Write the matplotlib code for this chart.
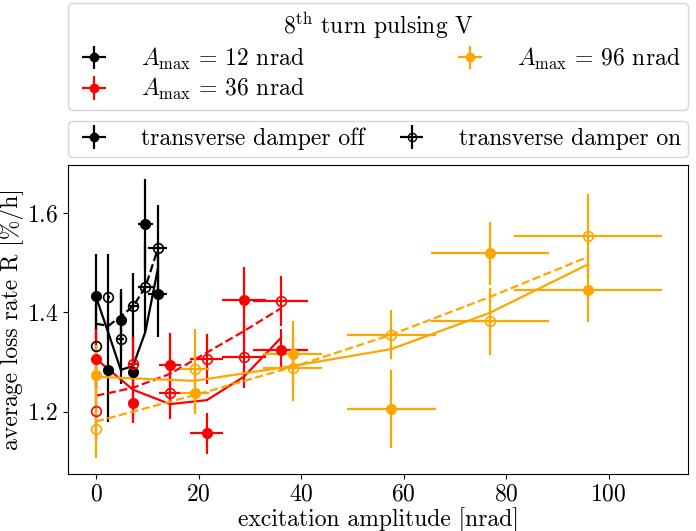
import numpy as np
import matplotlib
matplotlib.use('Agg')
import matplotlib.pyplot as plt

plt.rcParams['font.family'] = 'serif'
plt.rcParams['font.serif'] = ['cmr10']
plt.rcParams['mathtext.fontset'] = 'cm'
plt.rcParams['axes.formatter.use_mathtext'] = True
plt.rcParams['axes.unicode_minus'] = False
plt.rcParams['font.size'] = 17

# A_max = 12 nrad (black)
x_12 = [0, 2.4, 4.8, 7.2, 9.6, 12]
xerr_12 = [0, 0.36, 0.72, 1.08, 1.44, 1.8]
off_12 = [1.433, 1.284, 1.385, 1.280, 1.578, 1.437]
off_err_12 = [0.084, 0.106, 0.062, 0.070, 0.091, 0.087]
on_12 = [1.332, 1.432, 1.347, 1.412, 1.451, 1.529]
on_err_12 = [0.085, 0.085, 0.092, 0.067, 0.090, 0.087]
fit_off_12 = [1.430, 1.358, 1.284, 1.292, 1.361, 1.486]
fit_on_12 = [1.377, 1.373, 1.392, 1.412, 1.451, 1.527]

# A_max = 36 nrad (red)
x_36 = [0, 7.2, 14.4, 21.6, 28.8, 36]
xerr_36 = [0, 1.08, 2.16, 3.24, 4.32, 5.4]
off_36 = [1.306, 1.217, 1.294, 1.156, 1.425, 1.324]
off_err_36 = [0.06, 0.040, 0.064, 0.042, 0.066, 0.042]
on_36 = [1.202, 1.296, 1.238, 1.306, 1.310, 1.423]
on_err_36 = [0.06, 0.055, 0.053, 0.050, 0.063, 0.050]
fit_off_36 = [1.306, 1.244, 1.215, 1.223, 1.270, 1.348]
fit_on_36 = [1.232, 1.248, 1.276, 1.319, 1.362, 1.408]

# A_max = 96 nrad (orange)
x_96 = [0, 19.2, 38.4, 57.6, 76.8, 96]
xerr_96 = [0, 2.88, 5.76, 8.64, 11.52, 14.4]
off_96 = [1.274, 1.237, 1.316, 1.205, 1.519, 1.445]
off_err_96 = [0.06, 0.042, 0.067, 0.078, 0.063, 0.064]
on_96 = [1.164, 1.285, 1.288, 1.355, 1.382, 1.554]
on_err_96 = [0.058, 0.081, 0.066, 0.050, 0.068, 0.084]
fit_off_96 = [1.270, 1.262, 1.292, 1.326, 1.399, 1.497]
fit_on_96 = [1.180, 1.233, 1.290, 1.355, 1.431, 1.512]

fig = plt.figure(figsize=(6.96, 5.31), dpi=100)
ax = fig.add_axes([0.0977, 0.1073, 0.8908, 0.5817])

sets = [
    ('black', x_12, xerr_12, off_12, off_err_12, on_12, on_err_12, fit_off_12, fit_on_12),
    ('red', x_36, xerr_36, off_36, off_err_36, on_36, on_err_36, fit_off_36, fit_on_36),
    ('orange', x_96, xerr_96, off_96, off_err_96, on_96, on_err_96, fit_off_96, fit_on_96),
]

for c, x, xe, yoff, eoff, yon, eon, foff, fon in sets:
    ax.errorbar(x, yoff, yerr=eoff, xerr=xe, fmt='o', color=c, ms=7, elinewidth=1.6, capsize=0)
    ax.errorbar(x, yon, yerr=eon, xerr=xe, fmt='o', color=c, mfc='none', ms=7,
                mew=1.2, elinewidth=1.6, capsize=0)
    ax.plot(x, foff, '-', color=c, lw=1.6)
    ax.plot(x, fon, '--', color=c, lw=1.6)

ax.set_xlim(-5.5, 115.5)
ax.set_ylim(1.074, 1.697)
ax.set_yticks([1.2, 1.4, 1.6])
ax.set_xlabel('excitation amplitude [nrad]', labelpad=1)
ax.set_ylabel('average loss rate R [%/h]', labelpad=2)

# legends
h12 = ax.errorbar([], [], yerr=[], xerr=[], fmt='o', color='black', ms=6, elinewidth=1.6)
h36 = ax.errorbar([], [], yerr=[], xerr=[], fmt='o', color='red', ms=6, elinewidth=1.6)
h96 = ax.errorbar([], [], yerr=[], xerr=[], fmt='o', color='orange', ms=6, elinewidth=1.6)
leg1 = ax.legend([h12, h36, h96],
                 [r'$A_{\rm max}\,=\,12$ nrad', r'$A_{\rm max}\,=\,36$ nrad', r'$A_{\rm max}\,=\,96$ nrad'],
                 title=r'8$^{\rm th}$ turn pulsing V', ncol=2, loc='lower left',
                 bbox_to_anchor=(0, 1.18, 1, 0.2), mode='expand', borderaxespad=0,
                 fontsize=17, title_fontsize=17, handlelength=1.6, handletextpad=1.2,
                 labelspacing=0.2, borderpad=0.3)
ax.add_artist(leg1)

hoff = ax.errorbar([], [], yerr=[], xerr=[], fmt='o', color='black', ms=6, elinewidth=1.6)
hon = ax.errorbar([], [], yerr=[], xerr=[], fmt='o', color='black', mfc='none', ms=6, elinewidth=1.6)
ax.legend([hoff, hon], ['transverse damper off', 'transverse damper on'], ncol=2,
          loc='lower left', bbox_to_anchor=(0, 1.025, 1, 0.1), mode='expand',
          borderaxespad=0, fontsize=17, handlelength=1.6, handletextpad=1.2, borderpad=0.3)

fig.savefig('out.png', dpi=100)
